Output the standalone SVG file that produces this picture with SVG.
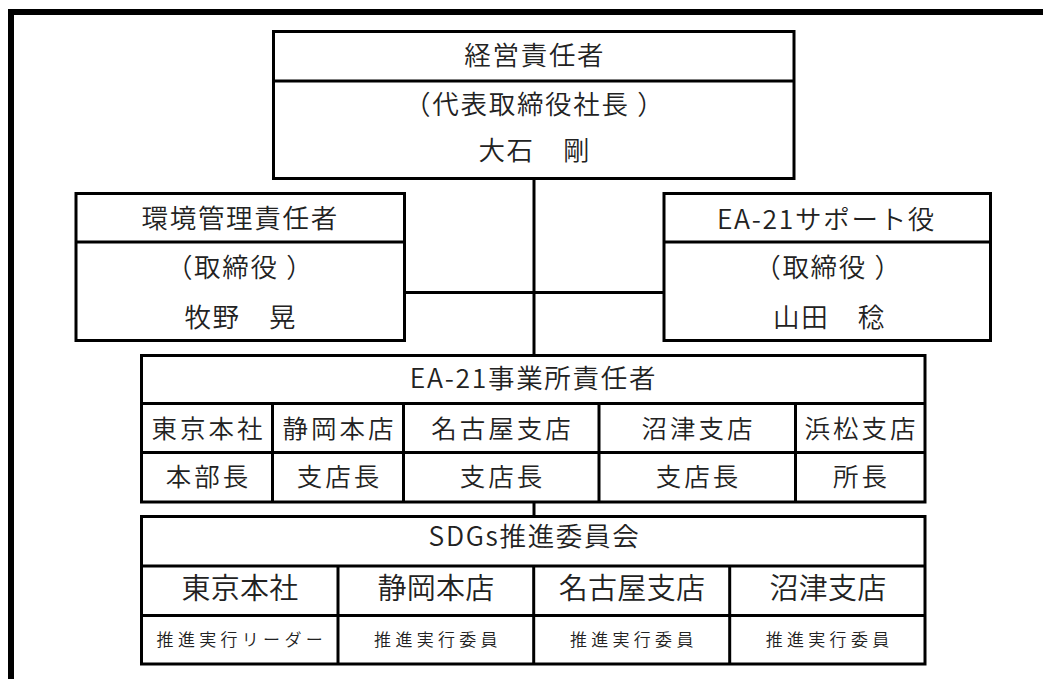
<svg xmlns="http://www.w3.org/2000/svg" width="1043" height="679" viewBox="0 0 1043 679">
<style>
.box{fill:#fff;stroke:#000;stroke-width:3}
.ln{stroke:#000;stroke-width:3;fill:none}
.t{font-family:"Noto Sans CJK JP","Noto Sans",sans-serif;font-weight:350;fill:#222;text-anchor:middle}
.h{font-size:26.5px;letter-spacing:1.7px}
.m{font-size:25.5px;letter-spacing:3px}
.l{font-size:29px;letter-spacing:0.3px}
.s{font-size:17px;letter-spacing:4.3px}
</style>
<rect width="1043" height="679" fill="#fff"/>
<path d="M11,679 V12 H1043" fill="none" stroke="#000" stroke-width="6"/>
<g id="connectors">
<path class="ln" d="M534,178.5 V355.5"/>
<path class="ln" d="M404.5,292.5 H664"/>
<path class="ln" d="M534,502 V516.5"/>
</g>
<g id="ceo">
<rect class="box" x="273.5" y="31.5" width="520.5" height="147"/>
<path class="ln" d="M273.5,81 H794"/>
<text class="t h" x="534.8" y="64.8">経営責任者</text>
<text class="t h" x="534.8" y="113.9">（代表取締役社長 ）</text>
<text class="t h" x="534.8" y="160.1">大石　剛</text>
</g>
<g id="env-manager">
<rect class="box" x="76" y="193.5" width="328.5" height="147"/>
<path class="ln" d="M76,242 H404.5"/>
<text class="t h" x="240.2" y="228.4">環境管理責任者</text>
<text class="t h" x="240.2" y="277.1">（取締役 ）</text>
<text class="t h" x="240.8" y="326.6">牧野　晃</text>
</g>
<g id="ea21-support">
<rect class="box" x="664" y="193.5" width="326.5" height="147"/>
<path class="ln" d="M664,242 H990.5"/>
<text class="t h" x="826.5" y="228.5">EA-21サポート役</text>
<text class="t h" x="828.5" y="277.1">（取締役 ）</text>
<text class="t h" x="829.5" y="327">山田　稔</text>
</g>
<g id="ea21-office">
<rect class="box" x="141.5" y="355.5" width="783.5" height="146.5"/>
<path class="ln" d="M141.5,403.5 H925 M141.5,452.5 H925 M272.5,403.5 V502 M403.5,403.5 V502 M599,403.5 V502 M795.5,403.5 V502"/>
<text class="t h" x="533.5" y="388">EA-21事業所責任者</text>
<text class="t m" x="208.5" y="437.7">東京本社</text>
<text class="t m" x="339.5" y="437.7">静岡本店</text>
<text class="t m" x="502.5" y="437.7">名古屋支店</text>
<text class="t m" x="698.5" y="437.7">沼津支店</text>
<text class="t m" x="861.5" y="437.7">浜松支店</text>
<text class="t m" x="208.5" y="486.4">本部長</text>
<text class="t m" x="339.5" y="486.4">支店長</text>
<text class="t m" x="502.5" y="486.4">支店長</text>
<text class="t m" x="698.5" y="486.4">支店長</text>
<text class="t m" x="861.5" y="486.4">所長</text>
</g>
<g id="sdgs-committee">
<rect class="box" x="141.5" y="516.5" width="783.5" height="147.5"/>
<path class="ln" d="M141.5,566 H925 M141.5,615.5 H925 M338,566 V664 M533.7,566 V664 M729.7,566 V664"/>
<text class="t h" x="534.5" y="546">SDGs推進委員会</text>
<text class="t l" x="240" y="599.3">東京本社</text>
<text class="t l" x="436" y="599.3">静岡本店</text>
<text class="t l" x="632" y="599.3">名古屋支店</text>
<text class="t l" x="828" y="599.3">沼津支店</text>
<text class="t s" x="241.8" y="645.7">推進実行リーダー</text>
<text class="t s" x="438" y="645.7">推進実行委員</text>
<text class="t s" x="633.8" y="645.7">推進実行委員</text>
<text class="t s" x="829.6" y="645.7">推進実行委員</text>
</g>
</svg>
